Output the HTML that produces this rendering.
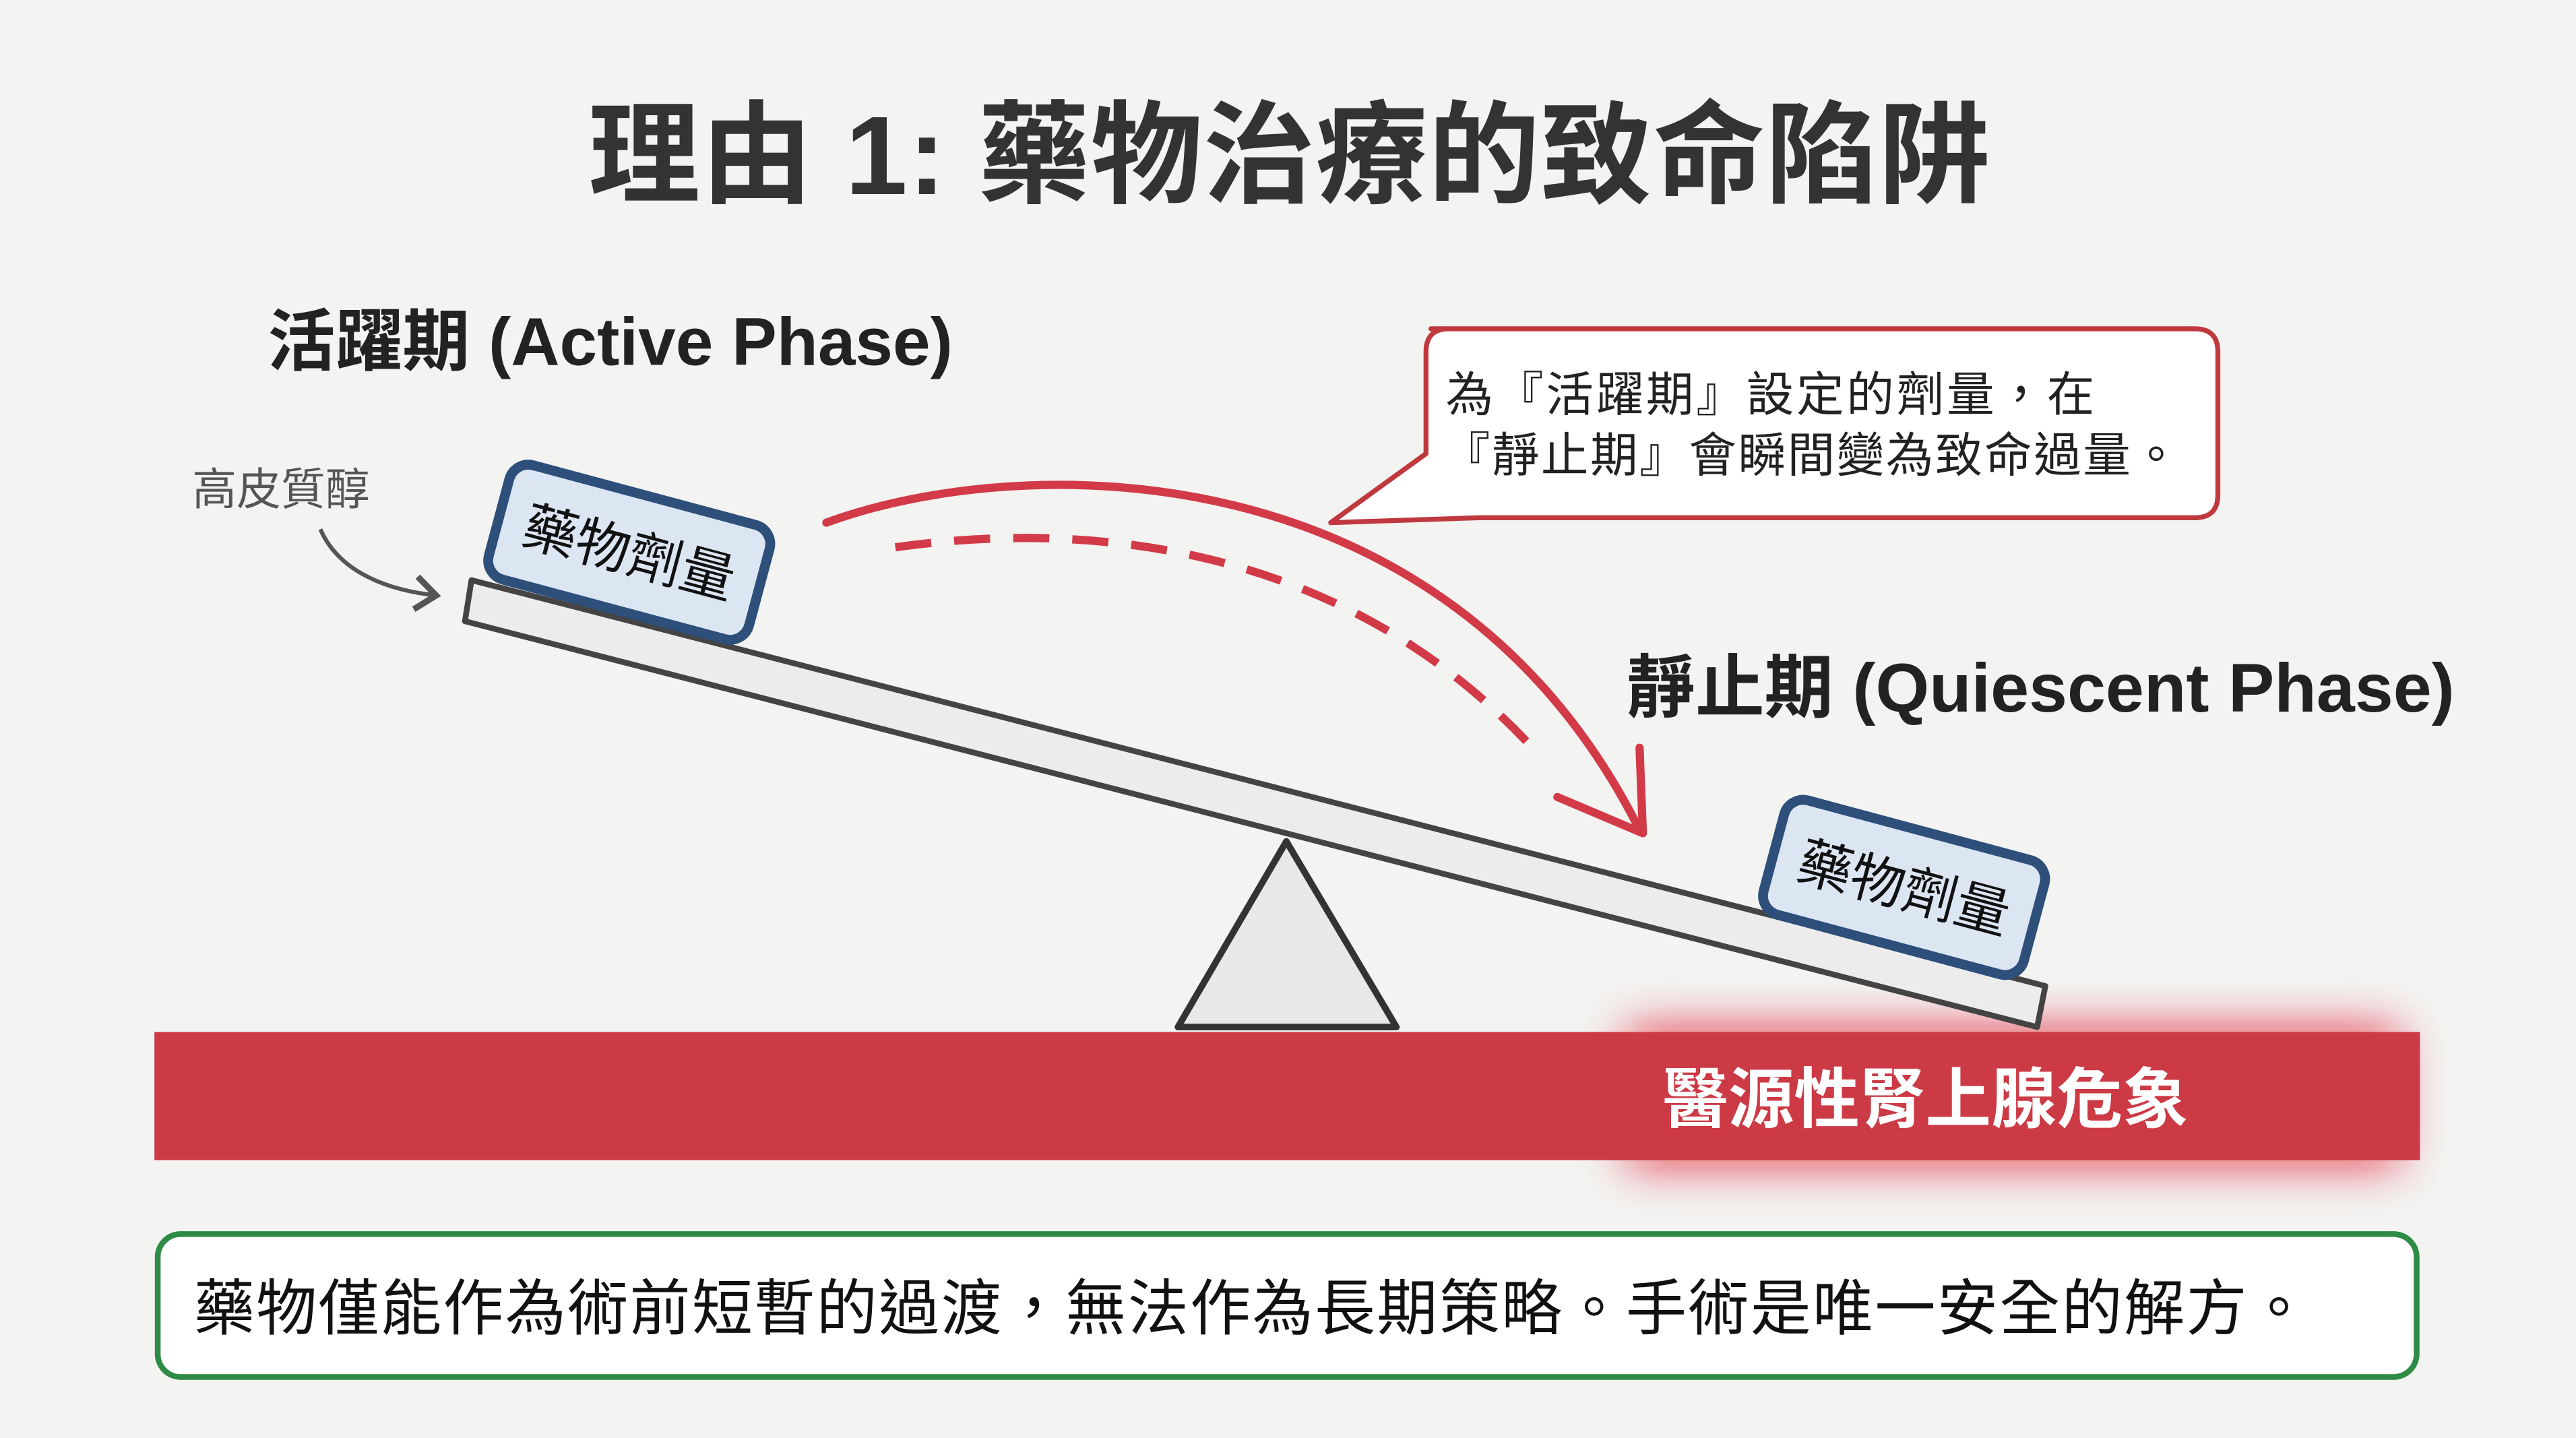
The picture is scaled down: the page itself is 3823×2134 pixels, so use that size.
<!DOCTYPE html>
<html><head><meta charset="utf-8"><style>
html,body{margin:0;padding:0;background:#f3f3f1;}
svg{display:block}
text{font-family:"Liberation Sans","Noto Sans CJK TC",sans-serif;}
</style></head><body>
<svg width="3823" height="2134" viewBox="0 0 1568 875" xmlns="http://www.w3.org/2000/svg">
<defs>
<filter id="glow" x="-20%" y="-80%" width="140%" height="260%"><feGaussianBlur stdDeviation="14"/></filter>
<marker id="ah" markerWidth="10" markerHeight="10" refX="5" refY="5" orient="auto"><path d="M1,1 L6,5 L1,9" fill="none" stroke="#555" stroke-width="1.5"/></marker>
</defs>
<rect width="1568" height="875" fill="#f3f3f1"/>
<text x="785" y="118" text-anchor="middle" font-size="68" font-weight="bold" fill="#333" letter-spacing="0.5">理由 1: 藥物治療的致命陷阱</text>
<text x="163" y="222" font-size="41" font-weight="bold" fill="#222">活躍期 (Active Phase)</text>
<text x="117" y="307" font-size="27" fill="#555">高皮質醇</text>
<path d="M195,322 C205,345 230,358 263,362" fill="none" stroke="#555" stroke-width="2.5" marker-end="url(#ah)"/>
<!-- red bar -->
<rect x="990" y="625" width="470" height="85" fill="#e01020" opacity="0.7" filter="url(#glow)"/>
<rect x="94" y="628" width="1379" height="78" fill="#cc3a45"/>
<text x="1172" y="683" text-anchor="middle" font-size="40" font-weight="bold" fill="#fff">醫源性腎上腺危象</text>
<!-- fulcrum -->
<polygon points="783,512 717,625 850,625" fill="#e8e8e8" stroke="#333" stroke-width="4" stroke-linejoin="round"/>
<!-- beam -->
<polygon points="287,353 1245,600 1240,625 283,378" fill="#ececec" stroke="#444" stroke-width="3.5" stroke-linejoin="round"/>
<!-- dose boxes -->
<g transform="translate(383,336) rotate(15)">
<rect x="-82" y="-36" width="164" height="72" rx="12" fill="#dce6f3" stroke="#2d4f7a" stroke-width="6"/>
<text x="0" y="12" text-anchor="middle" font-size="33" fill="#111">藥物劑量</text>
</g>
<g transform="translate(1159,540) rotate(15)">
<rect x="-82" y="-36" width="164" height="72" rx="12" fill="#dce6f3" stroke="#2d4f7a" stroke-width="6"/>
<text x="0" y="12" text-anchor="middle" font-size="33" fill="#111">藥物劑量</text>
</g>
<!-- arcs -->
<path d="M503,318 C620,275 880,270 998,505" fill="none" stroke="#d23a48" stroke-width="5" stroke-linecap="round"/>
<path d="M948,485 L1000,507 L998,455" fill="none" stroke="#d23a48" stroke-width="5" stroke-linecap="round" stroke-linejoin="round"/>
<path d="M545,333 C650,318 810,325 930,452" fill="none" stroke="#d23a48" stroke-width="5" stroke-dasharray="22,14"/>
<!-- callout -->
<path d="M871,200 H1336 Q1350,200 1350,214 V301 Q1350,315 1336,315 H900 L810,318 L868,276 V214 Q868,200 882,200 Z" fill="#fff" stroke="#c0393f" stroke-width="3" stroke-linejoin="round"/>
<text x="880" y="250" font-size="29" fill="#222" letter-spacing="1.5">為『活躍期』設定的劑量，在</text>
<text x="878" y="287" font-size="29" fill="#222" letter-spacing="1">『靜止期』會瞬間變為致命過量。</text>
<text x="990" y="433" font-size="42" font-weight="bold" fill="#222">靜止期 (Quiescent Phase)</text>
<!-- bottom box -->
<rect x="96" y="751" width="1375" height="87" rx="14" fill="#fff" stroke="#2e8b46" stroke-width="3.5"/>
<text x="118" y="809" font-size="37" fill="#111" letter-spacing="0.9">藥物僅能作為術前短暫的過渡，無法作為長期策略。手術是唯一安全的解方。</text>
</svg>
</body></html>
